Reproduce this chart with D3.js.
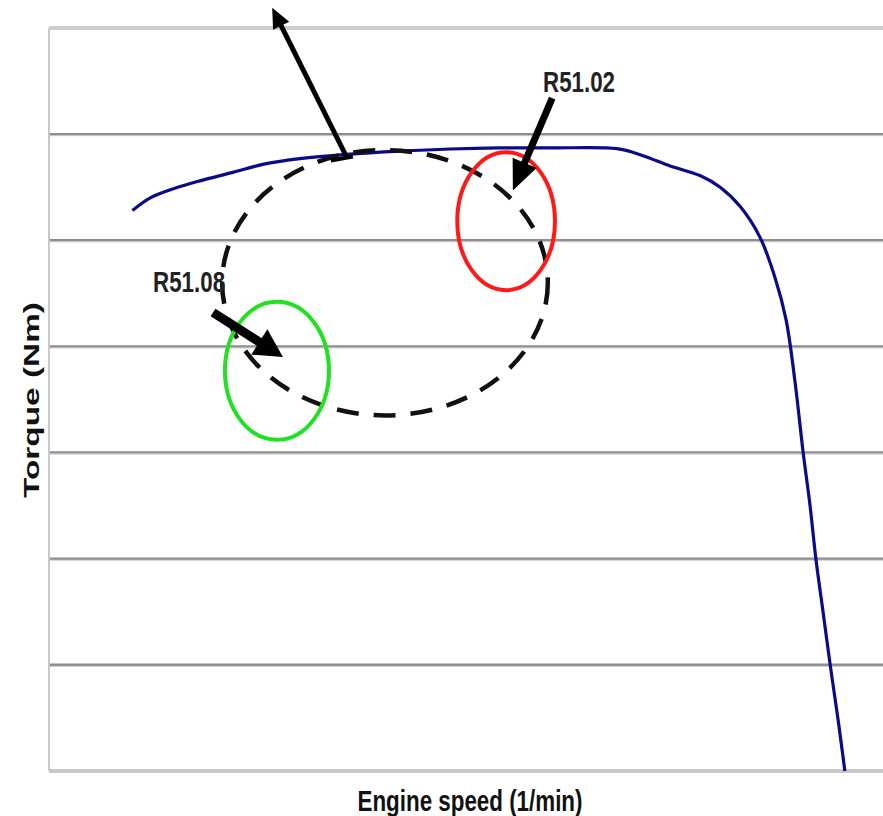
<!DOCTYPE html>
<html>
<head>
<meta charset="utf-8">
<script src="https://cdn.jsdelivr.net/npm/d3@7"></script>
<style>
  body { margin: 0; background: #fff; }
</style>
</head>
<body>
<div id="chart"></div>
<script>
var W = 883, H = 816;
var margin = {top: 28, right: 0, bottom: 45, left: 49},
    width = W - margin.left - margin.right,
    height = H - margin.top - margin.bottom;

// full-load torque curve (engine speed in 1/min, torque in Nm)
var speed  = [810, 855, 917, 980, 1063, 1144, 1232, 1350, 1484, 1610, 1736, 1861, 2005, 2050, 2101,
              2164, 2239, 2290, 2340, 2390, 2428, 2456, 2478, 2499, 2516, 2531, 2549, 2567, 2587, 2604];
var torque = [528, 540, 549, 556, 564, 572, 577, 581, 584, 586, 587, 587, 587, 585, 579,
              570, 561, 550, 532, 503, 465, 425, 368, 300, 251, 200, 150, 100, 48, 0];
var gridTicks = [0, 100, 200, 300, 400, 500, 600, 700];

// annotations: [speed, torque, radius speed, radius torque]
var operatingArea = [1446, 460, 410, 125];
var redRing   = [1751, 518, 123, 65];
var greenRing = [1174, 377, 131, 65];
var labels = ["R51.02", "R51.08"];
var labelPos = [[1844, 640], [862, 451]];
// arrows: [fromSpeed, fromTorque, toSpeed, toTorque]
var arrows = [[1350, 578, 1162, 719], [1867, 634, 1768, 547], [1013, 432, 1189, 390]];

var svg = d3.select("#chart").append("svg")
    .attr("width", W)
    .attr("height", H);

var g = svg.append("g")
    .attr("transform", "translate(" + margin.left + "," + margin.top + ")");

var x = d3.scaleLinear().domain([600, 2700]).range([0, width]);
var y = d3.scaleLinear().domain([0, 700]).range([height, 0]);

// gridlines
g.selectAll(".grid")
    .data(gridTicks.slice(1, -1))
    .enter().append("line")
    .attr("x1", 0).attr("x2", width)
    .attr("y1", d => y(d)).attr("y2", d => y(d))
    .style("stroke", "#8e8e8e")
    .style("stroke-width", 2.5);
g.selectAll(".grid2")
    .data(gridTicks.slice(1, -1))
    .enter().append("line")
    .attr("x1", 0).attr("x2", width)
    .attr("y1", d => y(d) + 1.5).attr("y2", d => y(d) + 1.5)
    .style("stroke", "#c8c8c8")
    .style("stroke-width", 1);

// frame
g.append("line").attr("x1", 0).attr("x2", width).attr("y1", y(700)).attr("y2", y(700))
    .style("stroke", "#cccccc").style("stroke-width", 4);
g.append("line").attr("x1", 0).attr("x2", 0).attr("y1", y(700)).attr("y2", y(0))
    .style("stroke", "#c8c8c8").style("stroke-width", 2);
g.append("line").attr("x1", 0).attr("x2", width).attr("y1", y(0)).attr("y2", y(0))
    .style("stroke", "#c8c8c8").style("stroke-width", 4);

// torque curve
var line = d3.line()
    .x((d, i) => x(speed[i]))
    .y(d => y(d))
    .curve(d3.curveCatmullRom);

g.append("path")
    .datum(torque)
    .attr("d", line)
    .style("fill", "none")
    .style("stroke", "#0a0a8a")
    .style("stroke-width", 3.2);

// ellipses
var ellipse = function(e, color, dash, sw) {
    var cx = x(e[0]), cy = y(e[1]);
    var rx = x(e[0] + e[2]) - cx, ry = cy - y(e[1] + e[3]);
    g.append("ellipse")
        .attr("cx", cx).attr("cy", cy).attr("rx", rx).attr("ry", ry)
        .style("fill", "none")
        .style("stroke", color)
        .style("stroke-width", sw)
        .style("stroke-dasharray", dash);
};
ellipse(operatingArea, "#111", "22,15", 4.5);
ellipse(redRing, "#ff1a1a", null, 4);
ellipse(greenRing, "#22e022", null, 4);

// arrows
var arrowW = [5, 7, 9], headL = [20, 30, 28], headW = [9, 13, 15];
arrows.forEach(function(a, i) {
    var x1 = x(a[0]), y1 = y(a[1]), x2 = x(a[2]), y2 = y(a[3]);
    var ang = Math.atan2(y2 - y1, x2 - x1);
    var bx = x2 - headL[i] * Math.cos(ang), by = y2 - headL[i] * Math.sin(ang);
    var px = -Math.sin(ang), py = Math.cos(ang);
    g.append("line")
        .attr("x1", x1).attr("y1", y1).attr("x2", bx + 2 * Math.cos(ang)).attr("y2", by + 2 * Math.sin(ang))
        .style("stroke", "#000").style("stroke-width", arrowW[i]);
    g.append("path")
        .attr("d", "M" + x2 + "," + y2 +
                   "L" + (bx + px * headW[i]) + "," + (by + py * headW[i]) +
                   "L" + (bx - px * headW[i]) + "," + (by - py * headW[i]) + "Z")
        .style("fill", "#000");
    if (i === 0) {
        g.append("line")
            .attr("x1", x1 - 16).attr("y1", y1 + 3).attr("x2", x1 + 6).attr("y2", y1 - 1)
            .style("stroke", "#000").style("stroke-width", 4);
    }
});

// labels
g.selectAll(".label")
    .data(labels)
    .enter().append("text")
    .attr("class", "label")
    .attr("x", (d, i) => x(labelPos[i][0]))
    .attr("y", (d, i) => y(labelPos[i][1]))
    .attr("textLength", 72)
    .attr("lengthAdjust", "spacingAndGlyphs")
    .style("font-family", "'Liberation Sans Narrow', 'Liberation Sans', Arial, sans-serif")
    .style("font-weight", "bold")
    .style("font-size", "29px")
    .style("fill", "#222")
    .text(d => d);

// axis titles
svg.append("text")
    .attr("x", 470)
    .attr("y", 811)
    .attr("text-anchor", "middle")
    .attr("textLength", 225)
    .attr("lengthAdjust", "spacingAndGlyphs")
    .style("font-family", "'Liberation Sans Narrow', 'Liberation Sans', Arial, sans-serif")
    .style("font-weight", "bold")
    .style("font-size", "29px")
    .style("fill", "#111")
    .text("Engine speed (1/min)");

svg.append("text")
    .attr("transform", "translate(39,400) rotate(-90)")
    .attr("text-anchor", "middle")
    .attr("textLength", 196)
    .attr("lengthAdjust", "spacingAndGlyphs")
    .style("font-family", "'Liberation Sans', Arial, sans-serif")
    .style("font-weight", "bold")
    .style("font-size", "22px")
    .style("fill", "#111")
    .text("Torque (Nm)");
</script>
</body>
</html>
